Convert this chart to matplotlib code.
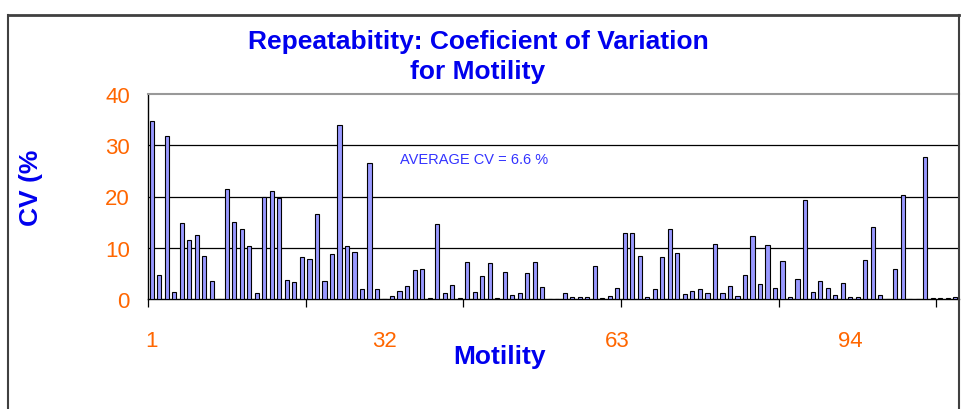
import numpy as np
import matplotlib
matplotlib.use("Agg")
import matplotlib.pyplot as plt
from matplotlib.lines import Line2D

# CV (%) per sample
motility_cv = [
    34.8, 4.7, 31.9, 1.4, 14.9, 11.5, 12.4, 8.4, 3.6, 0.0,
    21.5, 15.1, 13.7, 10.4, 1.2, 20.0, 21.0, 19.7, 3.8, 3.4,
    8.1, 7.9, 16.5, 3.6, 8.8, 34.0, 10.4, 9.1, 1.9, 26.5,
    2.0, 0.0, 0.5, 1.5, 2.5, 5.6, 5.8, 0.1, 14.6, 1.1,
    2.7, 0.1, 7.3, 1.3, 4.5, 7.1, 0.1, 5.3, 0.7, 1.1,
    5.1, 7.3, 2.3, 0.0, 0.0, 1.1, 0.4, 0.3, 0.3, 6.4,
    0.1, 0.6, 2.2, 12.8, 12.8, 8.4, 0.3, 2.0, 8.2, 13.6,
    9.0, 0.9, 1.5, 1.9, 1.1, 10.8, 1.1, 2.6, 0.5, 4.6,
    12.2, 3.0, 10.6, 2.1, 7.5, 0.45, 3.9, 19.3, 1.4, 3.5,
    2.1, 0.8, 3.2, 0.45, 0.45, 7.7, 14.0, 0.8, 0.0, 5.9,
    20.3, 0.0, 0.0, 27.8, 0.2, 0.2, 0.2, 0.45,
]
samples = list(range(1, len(motility_cv) + 1))
x_labels = [1, 32, 63, 94]
y_ticks = [0, 10, 20, 30, 40]

blue = "#0000EE"
orange = "#FF6600"
font = ["Liberation Sans", "DejaVu Sans"]
plt.rcParams["font.family"] = font

fig = plt.figure(figsize=(9.61, 4.10), dpi=100)
ax = fig.add_axes([148 / 961, 1 - 300 / 410, 811 / 961, 205 / 410])

pos = np.arange(len(samples))
ax.bar(pos, motility_cv, width=0.55, color="#9999FF", edgecolor="black",
       linewidth=0.8, zorder=3)

ax.set_xlim(-0.5, len(samples) - 0.5)
ax.set_ylim(0, 40)

# grid
for v in y_ticks[1:-1]:
    ax.axhline(v, color="black", linewidth=0.9, zorder=1)

ax.set_yticks(y_ticks)
ax.set_yticklabels([str(v) for v in y_ticks])
ax.tick_params(axis="y", length=0, pad=13, labelsize=16, labelcolor=orange)

ax.set_xticks([s - 1 for s in x_labels])
ax.set_xticklabels([str(s) for s in x_labels])
ax.set_xticks(np.arange(-0.5, len(samples), 21), minor=True)
ax.tick_params(axis="x", which="major", length=0, pad=22, labelsize=16,
               labelcolor=orange)
ax.tick_params(axis="x", which="minor", length=6, width=0.9, color="black")

for side in ["left", "bottom"]:
    ax.spines[side].set_color("black")
    ax.spines[side].set_linewidth(1.0)
ax.spines["right"].set_visible(False)
ax.spines["top"].set_color("#999999")
ax.spines["top"].set_linewidth(1.5)

ax.set_xlabel("Motility", fontsize=19, fontweight="bold", color=blue)
ax.xaxis.set_label_coords(0.434, -0.22)
ax.set_ylabel("CV (%", fontsize=19, fontweight="bold", color=blue,
              va="center", ha="center")
ax.yaxis.set_label_coords(-0.144, 0.546)

ax.text(0.311, 0.683, "AVERAGE CV = 6.6 %", transform=ax.transAxes,
        fontsize=10.5, color="#3333FF", va="center", ha="left")

fig.text(478 / 961, 1 - 57 / 410,
         "Repeatabitity: Coeficient of Variation\nfor Motility",
         ha="center", va="center", fontsize=19, fontweight="bold",
         color=blue, linespacing=1.35)

# outer chart border
bx0, bx1, by0 = 8 / 961, 959 / 961, 1 - 16 / 410
fig.add_artist(Line2D([bx0, bx1], [by0, by0], color="#404040", lw=2,
                      transform=fig.transFigure))
fig.add_artist(Line2D([bx0, bx0], [by0, 0], color="#404040", lw=1.5,
                      transform=fig.transFigure))
fig.add_artist(Line2D([bx1, bx1], [by0, 0], color="#404040", lw=1.5,
                      transform=fig.transFigure))

fig.savefig("out.png", dpi=100)
